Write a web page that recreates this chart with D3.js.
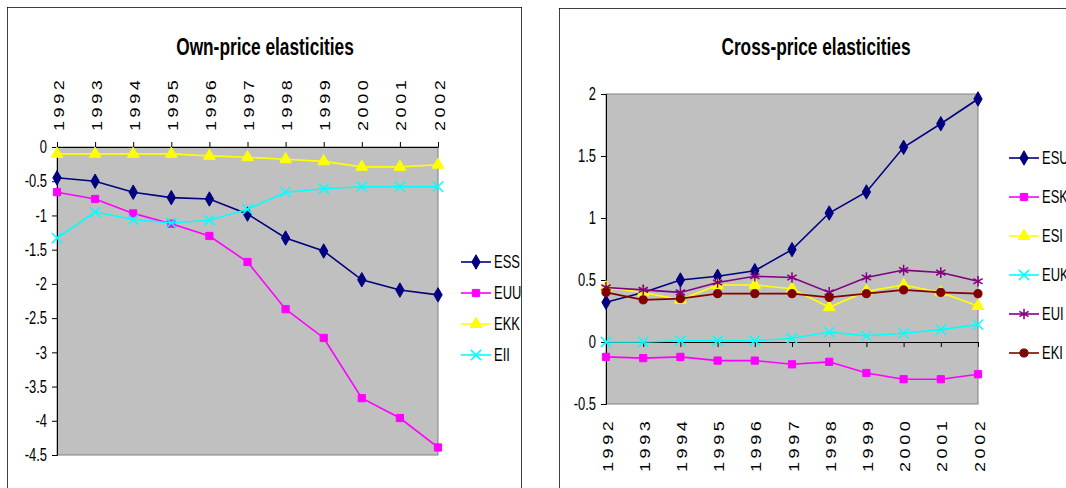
<!DOCTYPE html>
<html lang="en">
<head>
<meta charset="UTF-8">
<title>Elasticities</title>
<script src="https://cdn.jsdelivr.net/npm/d3@7"></script>
<style>
  body { margin: 0; background: #fff; }
  svg { display: block; }
  text { font-family: 'Liberation Sans', Arial, sans-serif; fill: #000; }
</style>
</head>
<body>
<svg id="chart" width="1066" height="488"></svg>
<script>
// years on the category axis
const years = ["1992", "1993", "1994", "1995", "1996", "1997", "1998", "1999", "2000", "2001", "2002"];

// own-price elasticities
const ess = [-0.45, -0.50, -0.66, -0.74, -0.76, -0.98, -1.33, -1.52, -1.94, -2.09, -2.16];
const euu = [-0.66, -0.76, -0.97, -1.12, -1.30, -1.68, -2.37, -2.79, -3.67, -3.96, -4.39];
const ekk = [-0.10, -0.10, -0.10, -0.10, -0.13, -0.15, -0.18, -0.21, -0.29, -0.29, -0.26];
const eii = [-1.33, -0.95, -1.06, -1.11, -1.07, -0.91, -0.66, -0.61, -0.58, -0.58, -0.58];

// cross-price elasticities
const esu = [0.32, 0.40, 0.50, 0.53, 0.575, 0.745, 1.04, 1.21, 1.57, 1.76, 1.96];
const esk = [-0.12, -0.13, -0.12, -0.15, -0.15, -0.18, -0.16, -0.25, -0.30, -0.30, -0.26];
const esi = [0.44, 0.40, 0.34, 0.46, 0.46, 0.43, 0.28, 0.41, 0.46, 0.40, 0.29];
const euk = [0.0, 0.0, 0.01, 0.01, 0.01, 0.03, 0.08, 0.05, 0.07, 0.10, 0.14];
const eui = [0.44, 0.42, 0.40, 0.48, 0.53, 0.52, 0.40, 0.52, 0.58, 0.56, 0.49];
const eki = [0.40, 0.34, 0.35, 0.39, 0.39, 0.39, 0.36, 0.39, 0.42, 0.40, 0.39];

const ownNames = ["ESS", "EUU", "EKK", "EII"];
const crossNames = ["ESU", "ESK", "ESI", "EUK", "EUI", "EKI"];

// marker styles (Excel defaults)
const styles = {
    diamond: { color: "#000080", type: d3.symbolDiamond, size: 60, stroke: false },
    square: { color: "#FF00FF", type: d3.symbolSquare, size: 52, stroke: false },
    triangle: { color: "#FFFF00", type: d3.symbolTriangle, size: 60, stroke: false },
    cross: { color: "#00FFFF", type: d3.symbolTimes, size: 70, stroke: true },
    star: { color: "#800080", type: d3.symbolAsterisk, size: 80, stroke: true },
    circle: { color: "#800000", type: d3.symbolCircle, size: 52, stroke: false },
}

// the original text is horizontally squeezed
const squeeze = 0.72

const svg = d3.select('#chart')

const drawMarker = (g, st, x, y) => {
    g.append('path')
        .attr('transform', `translate(${x},${y})`)
        .attr('d', d3.symbol().type(st.type).size(st.size)())
        .attr('fill', st.stroke ? 'none' : st.color)
        .attr('stroke', st.color)
        .attr('stroke-width', st.stroke ? 1.5 : 1)
}

const fmt = d => String(+d.toFixed(1))

function drawChart(cfg) {
    const clipId = 'clip-' + cfg.id
    svg.append('clipPath').attr('id', clipId)
        .append('rect')
        .attr('x', cfg.frame.x).attr('y', cfg.frame.y)
        .attr('width', cfg.frame.w).attr('height', cfg.frame.h)

    const root = svg.append('g').attr('clip-path', `url(#${clipId})`)

    root.append('rect')
        .attr('x', cfg.frame.x).attr('y', cfg.frame.y)
        .attr('width', cfg.frame.w).attr('height', cfg.frame.h)
        .attr('fill', '#fff').attr('stroke', '#000').attr('stroke-width', 1.5)

    const x = d3.scalePoint().domain(years).range([cfg.plot.x0, cfg.plot.x1])
    const y = d3.scaleLinear().domain(cfg.domain).range([cfg.plot.y1, cfg.plot.y0])

    // grey plot area
    root.append('rect')
        .attr('x', cfg.plot.x0).attr('y', cfg.plot.y0)
        .attr('width', cfg.plot.x1 - cfg.plot.x0).attr('height', cfg.plot.y1 - cfg.plot.y0)
        .attr('fill', '#C0C0C0').attr('stroke', '#808080').attr('stroke-width', 1)

    // title
    root.append('text')
        .attr('transform', `translate(${cfg.titleX},55) scale(${squeeze},1)`)
        .attr('text-anchor', 'middle')
        .style('font-size', '24px').style('font-weight', 'bold')
        .text(cfg.title)

    // y axis
    const yAxis = root.append('g')
        .attr('transform', `translate(${cfg.plot.x0},0)`)
        .call(d3.axisLeft(y).tickValues(d3.range(cfg.domain[0], cfg.domain[1] + 0.01, 0.5)).tickSize(5).tickFormat(fmt))
    yAxis.select('.domain').attr('stroke', '#000')
    yAxis.selectAll('text')
        .attr('x', null)
        .attr('transform', `translate(-10,0) scale(${squeeze},1)`)
        .style('font-size', '18px').style('font-family', null)

    // category axis crossing at zero
    const xAxis = root.append('g')
        .attr('transform', `translate(0,${y(0)})`)
        .call((cfg.top ? d3.axisTop(x) : d3.axisBottom(x)).tickSize(5).tickSizeOuter(0).tickFormat(''))
    xAxis.select('.domain').attr('stroke', '#000')

    // rotated year labels
    root.append('g').selectAll('text')
        .data(years)
        .join('text')
        .attr('transform', d => `translate(${x(d) + 1},${cfg.labelBottom}) scale(0.85,1) rotate(-90)`)
        .attr('dy', '0.36em')
        .style('font-size', '18px')
        .style('letter-spacing', '3.6px')
        .text(d => d)

    // series
    cfg.series.forEach(s => {
        const st = styles[s.style]
        const line = d3.line().x((d, i) => x(years[i])).y(d => y(d))
        root.append('path')
            .attr('d', line(s.values))
            .attr('fill', 'none')
            .attr('stroke', st.color)
            .attr('stroke-width', 1.6)
        const g = root.append('g')
        s.values.forEach((v, i) => drawMarker(g, st, x(years[i]), y(v)))
    })

    // legend
    cfg.series.forEach((s, i) => {
        const st = styles[s.style]
        const ly = cfg.legend.y + i * cfg.legend.step
        const lg = root.append('g')
        lg.append('line')
            .attr('x1', cfg.legend.x).attr('x2', cfg.legend.x + 30)
            .attr('y1', ly).attr('y2', ly)
            .attr('stroke', st.color).attr('stroke-width', 1.6)
        drawMarker(lg, st, cfg.legend.x + 15, ly)
        lg.append('text')
            .attr('transform', `translate(${cfg.legend.x + 33},${ly}) scale(${squeeze},1)`)
            .attr('dy', '0.36em')
            .style('font-size', '18px')
            .text(s.name)
    })
}

drawChart({
    id: 'own',
    title: 'Own-price elasticities',
    titleX: 265,
    frame: { x: 7, y: 7, w: 515, h: 495 },
    plot: { x0: 57, x1: 438, y0: 147, y1: 455 },
    domain: [-4.5, 0],
    top: true,
    labelBottom: 131,
    legend: { x: 461, y: 262, step: 31 },
    series: [
        { name: ownNames[0], values: ess, style: 'diamond' },
        { name: ownNames[1], values: euu, style: 'square' },
        { name: ownNames[2], values: ekk, style: 'triangle' },
        { name: ownNames[3], values: eii, style: 'cross' },
    ],
})

drawChart({
    id: 'cross',
    title: 'Cross-price elasticities',
    titleX: 816,
    frame: { x: 559, y: 8, w: 520, h: 495 },
    plot: { x0: 606, x1: 978, y0: 94, y1: 404 },
    domain: [-0.5, 2],
    top: false,
    labelBottom: 472,
    legend: { x: 1009, y: 158, step: 39 },
    series: [
        { name: crossNames[0], values: esu, style: 'diamond' },
        { name: crossNames[1], values: esk, style: 'square' },
        { name: crossNames[2], values: esi, style: 'triangle' },
        { name: crossNames[3], values: euk, style: 'cross' },
        { name: crossNames[4], values: eui, style: 'star' },
        { name: crossNames[5], values: eki, style: 'circle' },
    ],
})
</script>
</body>
</html>
